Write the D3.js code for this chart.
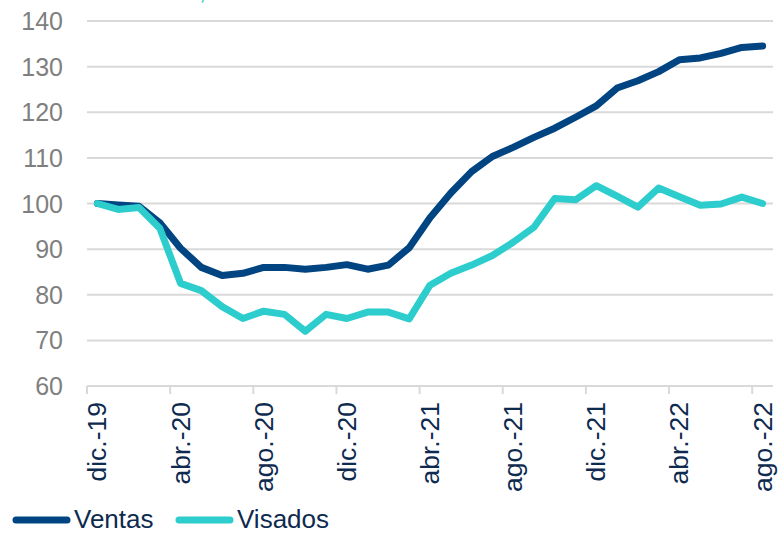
<!DOCTYPE html>
<html>
<head>
<meta charset="utf-8">
<script src="https://cdn.jsdelivr.net/npm/d3@7"></script>
<style>
  body { margin: 0; background: #fff; }
  svg { display: block; font-family: "Liberation Sans", Arial, sans-serif; }
</style>
</head>
<body>
<svg width="779" height="534"></svg>
<script>
// months dic-19 .. ago-22
const months = ['dic.-19','ene.-20','feb.-20','mar.-20','abr.-20','may.-20','jun.-20','jul.-20','ago.-20','sep.-20','oct.-20','nov.-20',
  'dic.-20','ene.-21','feb.-21','mar.-21','abr.-21','may.-21','jun.-21','jul.-21','ago.-21','sep.-21','oct.-21','nov.-21',
  'dic.-21','ene.-22','feb.-22','mar.-22','abr.-22','may.-22','jun.-22','jul.-22','ago.-22'];

const ventas = [100, 99.7, 99.4, 95.8, 90.2, 86.0, 84.2, 84.7, 86.0, 86.0, 85.6, 86.0,
  86.6, 85.6, 86.5, 90.3, 96.9, 102.3, 107, 110.3, 112.3, 114.5, 116.5, 118.9,
  121.4, 125.3, 126.9, 128.9, 131.5, 131.9, 132.9, 134.2, 134.5];

const visados = [100, 98.7, 99.1, 94.6, 82.5, 80.9, 77.4, 74.8, 76.4, 75.7, 72.0, 75.7,
  74.8, 76.2, 76.2, 74.7, 82.1, 84.7, 86.5, 88.6, 91.5, 94.8, 101.1, 100.8,
  103.9, 101.6, 99.2, 103.4, 101.5, 99.6, 99.9, 101.4, 100.0];

const yTicks = [60, 70, 80, 90, 100, 110, 120, 130, 140];
const xTickLabels = ['dic.-19','abr.-20','ago.-20','dic.-20','abr.-21','ago.-21','dic.-21','abr.-22','ago.-22'];

const series = [
  { name: 'Ventas', values: ventas, color: '#004481' },
  { name: 'Visados', values: visados, color: '#2dcccd' }
];

const svg = d3.select('svg');
const plotLeft = 87, plotRight = 773, plotTop = 21, plotBottom = 386;

const x = d3.scaleBand().domain(months).range([plotLeft, plotRight]).padding(0);
const y = d3.scaleLinear().domain([60, 140]).range([plotBottom, plotTop]);

// grid
svg.append('g')
  .selectAll('line')
  .data(yTicks)
  .enter()
  .append('line')
  .attr('x1', plotLeft)
  .attr('x2', plotRight)
  .attr('y1', d => y(d))
  .attr('y2', d => y(d))
  .attr('stroke', '#d9d9d9')
  .attr('stroke-width', 2);

// y labels
svg.append('g')
  .selectAll('text')
  .data(yTicks)
  .enter()
  .append('text')
  .attr('x', 63)
  .attr('y', d => y(d) + 9)
  .attr('text-anchor', 'end')
  .attr('fill', '#7f7f7f')
  .attr('font-size', 25)
  .text(d => d);

// x axis ticks, every 4 months at the category boundary
const tickIdx = d3.range(0, months.length + 1, 4);
svg.append('g')
  .selectAll('line')
  .data(tickIdx)
  .enter()
  .append('line')
  .attr('x1', i => plotLeft + i * x.step())
  .attr('x2', i => plotLeft + i * x.step())
  .attr('y1', plotBottom)
  .attr('y2', plotBottom + 8)
  .attr('stroke', '#d9d9d9')
  .attr('stroke-width', 2);

svg.append('g')
  .selectAll('text')
  .data(xTickLabels)
  .enter()
  .append('text')
  .attr('transform', d => `translate(${x(d) + x.bandwidth() / 2 + 9}, ${plotBottom + 16}) rotate(-90)`)
  .attr('text-anchor', 'end')
  .attr('fill', '#0e2a4f')
  .attr('font-size', 26.5)
  .text(d => d);

// lines (Visados drawn on top)
const line = d3.line()
  .x((d, i) => x(months[i]) + x.bandwidth() / 2)
  .y(d => y(d));

svg.append('g')
  .selectAll('path')
  .data(series)
  .enter()
  .append('path')
  .attr('d', s => line(s.values))
  .attr('fill', 'none')
  .attr('stroke', s => s.color)
  .attr('stroke-width', 7)
  .attr('stroke-linejoin', 'round')
  .attr('stroke-linecap', 'round');

// legend
const legend = svg.append('g');
const legendX = [13, 176];
series.forEach((s, i) => {
  legend.append('line')
    .attr('x1', legendX[i] + 3)
    .attr('x2', legendX[i] + 54)
    .attr('y1', 520)
    .attr('y2', 520)
    .attr('stroke', s.color)
    .attr('stroke-width', 7)
    .attr('stroke-linecap', 'round');
  legend.append('text')
    .attr('x', legendX[i] + 61)
    .attr('y', 528)
    .attr('fill', '#0e2a4f')
    .attr('font-size', 26)
    .text(s.name);
});

// cut-off title fragment at the top
svg.append('text')
  .attr('x', 199)
  .attr('y', -1)
  .attr('fill', '#2dcccd')
  .attr('font-size', 25)
  .text(',');
</script>
</body>
</html>
